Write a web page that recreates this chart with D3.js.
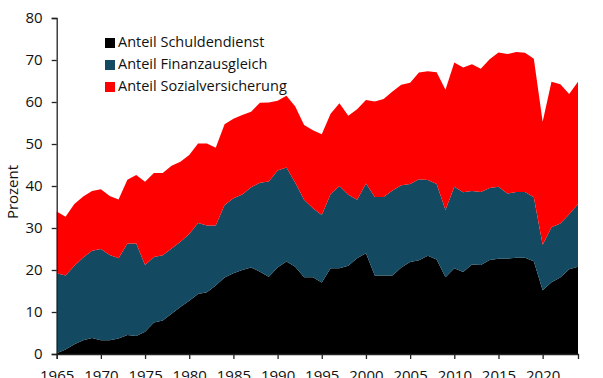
<!DOCTYPE html>
<html>
<head>
<meta charset="utf-8">
<script src="https://cdn.jsdelivr.net/npm/d3@7"></script>
<style>
  body { margin: 0; background: #fff; }
  svg text { font-family: "Open Sans", "Noto Sans", sans-serif; }
</style>
</head>
<body>
<div id="chart"></div>
<script>
const years = d3.range(1965, 2025);

const schuldendienst = [
    0.2, 1.1, 2.3, 3.3, 3.8, 3.3, 3.3, 3.7, 4.5, 4.3,
    5.3, 7.5, 8.0, 9.6, 11.2, 12.7, 14.3, 14.7, 16.3, 18.2,
    19.2, 20.0, 20.6, 19.6, 18.4, 20.6, 22.0, 20.8, 18.3, 18.3,
    17.0, 20.4, 20.4, 21.0, 22.8, 24.0, 18.7, 18.7, 18.7, 20.6,
    21.9, 22.3, 23.4, 22.5, 18.3, 20.4, 19.5, 21.3, 21.2, 22.4,
    22.7, 22.7, 22.9, 22.9, 22.1, 15.2, 17.1, 18.2, 20.2, 20.8
];

const finanzausgleich = [
    19.0, 17.6, 18.7, 19.7, 20.8, 21.7, 20.3, 19.1, 21.8, 22.0,
    15.9, 15.6, 15.5, 15.5, 15.5, 15.9, 16.9, 15.9, 14.3, 17.3,
    17.9, 18.0, 19.1, 21.2, 22.7, 23.1, 22.4, 20.0, 18.4, 16.4,
    16.1, 17.7, 19.6, 16.9, 13.9, 16.6, 18.7, 18.7, 20.2, 19.6,
    18.6, 19.3, 18.0, 18.0, 16.0, 19.4, 19.0, 17.5, 17.4, 17.1,
    17.1, 15.5, 15.7, 15.7, 15.2, 10.8, 13.1, 12.9, 13.1, 14.9
];

const sozialversicherung = [
    14.7, 14.0, 14.7, 14.5, 14.2, 14.2, 14.0, 14.0, 15.2, 16.3,
    19.8, 20.0, 19.6, 19.7, 19.1, 18.8, 18.9, 19.5, 18.5, 19.2,
    18.9, 18.9, 18.0, 19.0, 18.8, 16.6, 17.1, 18.1, 17.8, 18.6,
    19.2, 19.1, 19.7, 18.8, 21.6, 19.9, 22.7, 23.3, 23.6, 23.9,
    24.1, 25.4, 25.9, 26.6, 28.6, 29.6, 29.7, 30.2, 29.3, 30.7,
    32.0, 33.2, 33.3, 33.1, 33.0, 29.3, 34.6, 33.1, 28.6, 29.1
];

const seriesNames = ['Anteil Schuldendienst', 'Anteil Finanzausgleich', 'Anteil Sozialversicherung'];
const seriesColors = ['#000000', '#134a61', '#ff0000'];
const yTicks = [0, 10, 20, 30, 40, 50, 60, 70, 80];
const xTicks = d3.range(1965, 2021, 5);

const width = 603;
const height = 378;
const margin = { top: 18, right: 25, bottom: 24, left: 56.7 };

const table = years.map((year, i) => ({
    year: year,
    s0: schuldendienst[i],
    s1: finanzausgleich[i],
    s2: sozialversicherung[i]
}));

const svg = d3.select('#chart')
    .append('svg')
    .attr('width', width)
    .attr('height', height);

const xScale = d3.scaleLinear()
    .domain([1965, 2024])
    .range([margin.left, width - margin.right]);

const yScale = d3.scaleLinear()
    .domain([0, 80])
    .range([height - margin.bottom, margin.top]);

const stacked = d3.stack().keys(['s0', 's1', 's2'])(table);

const area = d3.area()
    .x(d => xScale(d.data.year))
    .y0(d => yScale(d[0]))
    .y1(d => yScale(d[1]));

svg.append('g')
    .selectAll('path')
    .data(stacked)
    .join('path')
    .attr('fill', (d, i) => seriesColors[i])
    .attr('d', area);

// axes
const yAxis = svg.append('g')
    .attr('transform', `translate(${margin.left}, 0)`)
    .call(d3.axisLeft(yScale).tickValues(yTicks).tickSize(5).tickPadding(9));

const xAxis = svg.append('g')
    .attr('transform', `translate(0, ${height - margin.bottom})`)
    .call(d3.axisBottom(xScale).tickValues(xTicks).tickFormat(d3.format('d')).tickSize(5).tickPadding(9));

[yAxis, xAxis].forEach(ax => {
    ax.select('.domain').attr('stroke', '#222').attr('stroke-width', 1.3);
    ax.selectAll('.tick line').attr('stroke', '#222').attr('stroke-width', 1.3);
    ax.selectAll('.tick text').attr('fill', '#111').style('font-size', '15px');
});

xAxis.selectAll('.tick text').attr('dy', '0.85em');

svg.append('text')
    .attr('transform', `translate(14, 192) rotate(-90)`)
    .attr('text-anchor', 'middle')
    .attr('dominant-baseline', 'middle')
    .style('font-size', '15px')
    .attr('fill', '#111')
    .text('Prozent');

// legend
const legend = svg.append('g')
    .attr('transform', 'translate(105, 43)');

seriesNames.forEach((name, i) => {
    const row = legend.append('g').attr('transform', `translate(0, ${i * 22})`);
    row.append('rect')
        .attr('x', 0).attr('y', -5)
        .attr('width', 10).attr('height', 10)
        .attr('fill', seriesColors[i]);
    row.append('text')
        .attr('x', 13)
        .attr('y', 0)
        .attr('dominant-baseline', 'middle')
        .style('font-size', '14.5px')
        .attr('fill', '#111')
        .text(name);
});
</script>
</body>
</html>
